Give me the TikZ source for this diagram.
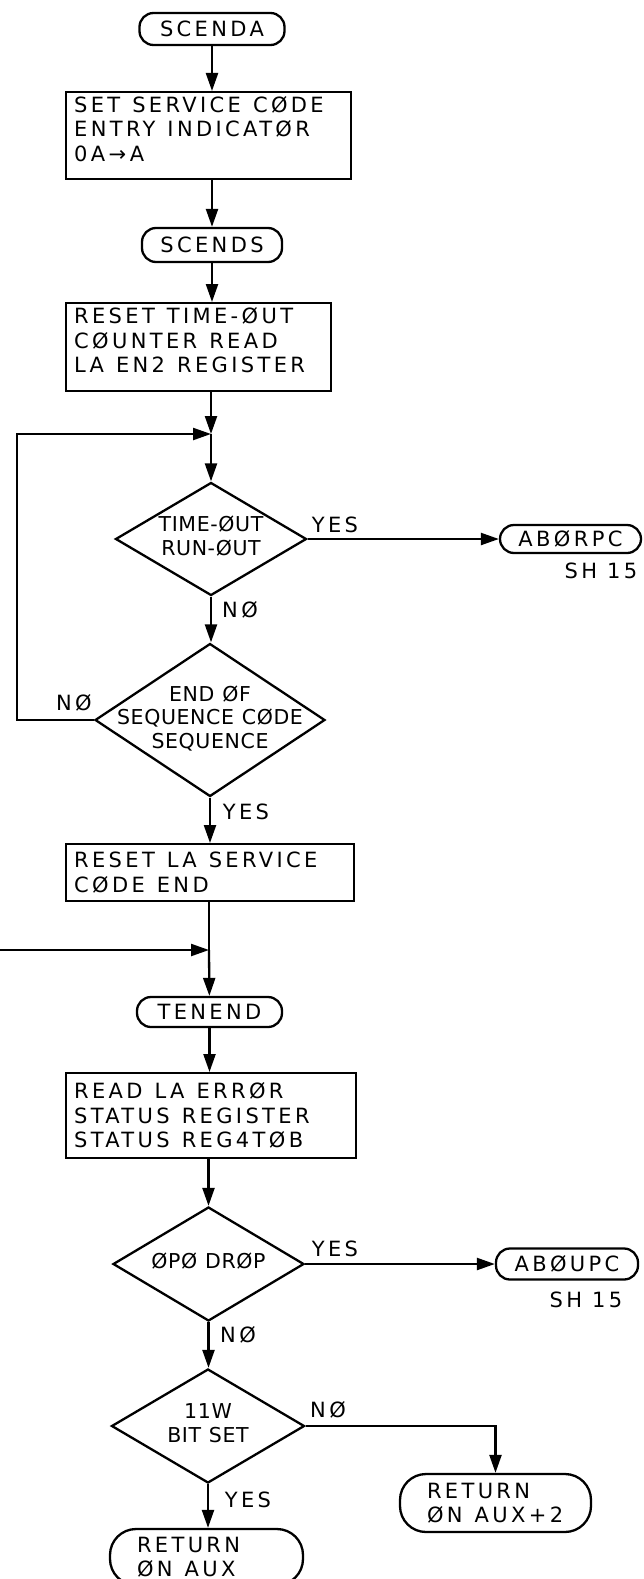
\documentclass[tikz,border=0pt]{standalone}
\usepackage{fontspec}
\newfontfamily\lrfont[LetterSpace=16]{DejaVu Sans}
\newfontfamily\ldfont[LetterSpace=3,WordSpace=1.1]{DejaVu Sans}
\usetikzlibrary{shapes.geometric,arrows.meta}
\newcommand\dectext[1]{\smash{\raisebox{-5pt}{\makebox[0pt]{\begin{tabular}{@{}c@{}}#1\end{tabular}}}}}
\newcommand\lowpad{\rule[-14pt]{0pt}{14pt}}
\newcommand\wsp{\spaceskip=12pt plus 2pt minus 1pt\relax}
\begin{document}
\begin{tikzpicture}[x=1pt,y=-1pt,line width=2.3pt,
  arr/.style={-{Triangle[length=18pt,width=12pt]}},
  proc/.style={draw, rectangle, anchor=north west, inner xsep=8pt, inner ysep=0pt, align=left,
    font=\lrfont\fontsize{21}{24.5}\selectfont},
  term/.style={draw, rectangle, rounded corners=14pt, inner sep=0pt, align=center,
    font=\lrfont\fontsize{21}{25}\selectfont},
  ret/.style={draw, rectangle, rounded corners=26pt, inner xsep=27pt, inner ysep=0pt, align=left,
    font=\lrfont\fontsize{21}{24}\selectfont},
  dec/.style={draw, diamond, inner sep=0pt, font=\ldfont\fontsize{20.5}{23.5}\selectfont},
  lbl/.style={inner sep=0pt, font=\lrfont\fontsize{21}{25}\selectfont}]
\useasboundingbox (0,0) rectangle (644,1579);
\fill[white] (0,0) rectangle (644,1579);
\clip (0,0) rectangle (644,1579);

% nodes
\node[term, minimum width=145pt, minimum height=32pt] (scenda) at (212,29) {SCENDA};
\node[proc, text width=269pt, minimum height=87pt] (b1) at (65,91) {\wsp SET SERVICE CØDE\\ENTRY INDICATØR\\0A\,→\,A\lowpad};
\node[term, minimum width=140pt, minimum height=34pt] (scends) at (212,245) {SCENDS};
\node[proc, text width=249pt, minimum height=88pt] (b2) at (65,302) {\wsp RESET TIME-ØUT\\CØUNTER READ\\LA EN2 REGISTER\lowpad};
\coordinate (j1) at (211,434);
\node[dec, minimum width=191pt, minimum height=113pt] (d1) at (211,539) {\dectext{TIME-ØUT\\RUN-ØUT}};
\node[term, minimum width=141pt, minimum height=28pt] (aborpc) at (570.5,539) {ABØRPC};
\node[lbl] (sh1) at (601,571) {SH 15};
\node[dec, minimum width=230pt, minimum height=153pt] (d2) at (210,720) {\dectext{END ØF\\SEQUENCE CØDE\\SEQUENCE}};
\coordinate (lc) at (17,720);
\node[proc, text width=272pt, minimum height=57pt] (b3) at (65,843) {\wsp RESET LA SERVICE\\CØDE END};
\coordinate (j2) at (209,950);
\coordinate (lin) at (0,950);
\node[term, minimum width=145pt, minimum height=30pt] (tenend) at (209.5,1012) {TENEND};
\node[proc, text width=274pt, minimum height=85pt] (b4) at (65,1072) {\wsp READ LA ERRØR\\STATUS REGISTER\\STATUS REG4TØB};
\node[dec, minimum width=191pt, minimum height=114pt] (d3) at (208.5,1264) {\dectext{ØPØ DRØP}};
\node[term, minimum width=142pt, minimum height=31pt] (aboupc) at (567,1264) {ABØUPC};
\node[lbl] (sh2) at (586,1300) {SH 15};
\node[dec, minimum width=193pt, minimum height=114pt] (d4) at (208,1426) {\dectext{11W\\BIT SET}};
\node[ret, text width=137pt, minimum height=58pt] (r2) at (495.5,1503) {\wsp RETURN\\ØN AUX+2};
\node[ret, text width=139pt, minimum height=56pt] (r1) at (206.5,1557) {\wsp RETURN\\ØN AUX};

% labels
\node[lbl] (y1) at (335,525) {YES};
\node[lbl] (n1) at (240,610) {NØ};
\node[lbl] (n2) at (74,703) {NØ};
\node[lbl] (y2) at (246,812) {YES};
\node[lbl] (y3) at (335,1249) {YES};
\node[lbl] (n3) at (238,1335) {NØ};
\node[lbl] (n4) at (328,1410) {NØ};
\node[lbl] (y4) at (248,1500) {YES};

% connectors
\draw[arr] (scenda) -- (scenda |- b1.north);
\draw[arr] (b1.south -| scends) -- (scends);
\draw[arr] (scends) -- (scends |- b2.north);
\draw[arr] (b2.south -| j1) -- (j1);
\draw[arr] (j1) -- (d1.north);
\draw[arr] (d1.east) -- (aborpc.west);
\draw[arr] (d1.south) -- (d1.south |- d2.north);
\draw[arr] (d2.west) -- (lc) |- (j1);
\draw[arr] (d2.south) -- (d2.south |- b3.north);
\draw (b3.south -| j2) -- (j2);
\draw[arr] (lin) -- (j2);
\draw[arr] (j2) -- (tenend);
\draw[arr] (tenend) -- (tenend |- b4.north);
\draw[arr] (b4.south -| d3) -- (d3.north);
\draw[arr] (d3.east) -- (aboupc.west);
\draw[arr] (d3.south) -- (d3.south |- d4.north);
\draw[arr] (d4.east) -| (r2.north);
\draw[arr] (d4.south) -- (d4.south |- r1.north);
\end{tikzpicture}
\end{document}
